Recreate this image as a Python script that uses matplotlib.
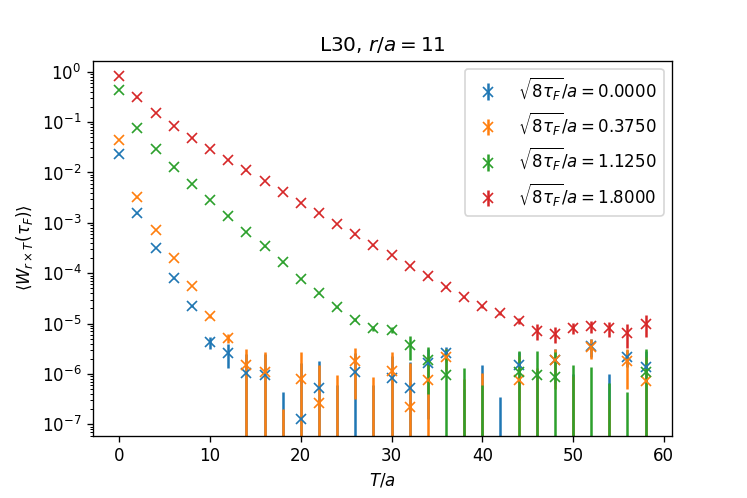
import numpy as np
import matplotlib
matplotlib.use('Agg')
from matplotlib import pyplot as plt

T = np.arange(0, 60, 2)

# <W> and errors, one list per flow time (negative means hidden on log axis)
w_000 = [2.3e-2, 1.55e-3, 3.15e-4, 7.9e-5, 2.2e-5, 4.3e-6, 2.6e-6, 1.04e-6, 9.6e-7, -1.0e-6,
         1.3e-7, 5.2e-7, -6e-7, 1.07e-6, -8e-7, 8.3e-7, 5.2e-7, 1.63e-6, 2.6e-6, -1.0e-6,
         -5e-7, -1.2e-6, 1.5e-6, -3e-7, 1.86e-6, -5e-7, 3.55e-6, -5e-7, 2.15e-6, 1.36e-6]
e_000 = [3e-4, 2e-5, 5e-6, 1.5e-6, 1e-6, 1.2e-6, 1.3e-6, 1.5e-6, 1.5e-6, 1.43e-6,
         1.5e-6, 1.3e-6, 1.2e-6, 1.5e-6, 1.4e-6, 1.4e-6, 1.2e-6, 1.5e-6, 0.9e-6, 1.5e-6,
         2.0e-6, 1.55e-6, 1.2e-6, 1.5e-6, 1.2e-6, 1.5e-6, 1.4e-6, 1.5e-6, 0.8e-6, 1.5e-6]

w_375 = [4.4e-2, 3.2e-3, 7.2e-4, 2.0e-4, 5.6e-5, 1.4e-5, 5.2e-6, 1.5e-6, 1.07e-6, -1.3e-6,
         7.9e-7, 2.7e-7, -5e-7, 1.77e-6, -6e-7, 1.17e-6, 2.2e-7, 7.6e-7, 2.15e-6, -8e-7,
         -8e-7, -1.5e-6, 7.6e-7, -2e-7, 1.85e-6, -6e-7, 3.5e-6, -1.2e-6, 1.8e-6, 7.1e-7]
e_375 = [5e-4, 4e-5, 8e-6, 2e-6, 1e-6, 1e-6, 1.1e-6, 1.6e-6, 1.6e-6, 1.5e-6,
         2.0e-6, 1.25e-6, 1.45e-6, 1.45e-6, 1.47e-6, 1.5e-6, 1.43e-6, 1.5e-6, 1.0e-6, 1.6e-6,
         1.84e-6, 1.45e-6, 1.5e-6, 1.5e-6, 1.35e-6, 1.5e-6, 1.5e-6, 1.5e-6, 1.3e-6, 1.5e-6]

w_1125 = [0.43, 7.6e-2, 2.9e-2, 1.26e-2, 5.9e-3, 2.85e-3, 1.39e-3, 6.7e-4, 3.4e-4, 1.65e-4,
          7.8e-5, 4.0e-5, 2.1e-5, 1.2e-5, 8.1e-6, 7.5e-6, 3.8e-6, 1.9e-6, 9.6e-7, -1.0e-6,
          -1.5e-6, -1.5e-6, 1.1e-6, 9.6e-7, 8.9e-7, -1.0e-6, -1.0e-6, -1.0e-6, -1.2e-6, 1.1e-6]
e_1125 = [4e-3, 8e-4, 3e-4, 1e-4, 5e-5, 3e-5, 1.5e-5, 8e-6, 4e-6, 2e-6,
          1.5e-6, 1e-6, 1e-6, 1e-6, 1e-6, 1e-6, 1.9e-6, 1.5e-6, 2.2e-6, 2.34e-6,
          2.1e-6, 1.5e-6, 1.8e-6, 1.85e-6, 1.9e-6, 2.5e-6, 2.4e-6, 1.65e-6, 1.63e-6, 2.1e-6]

w_18 = [0.82, 0.31, 0.15, 8.3e-2, 4.9e-2, 2.9e-2, 1.8e-2, 1.1e-2, 6.7e-3, 4.1e-3,
        2.5e-3, 1.6e-3, 9.5e-4, 5.9e-4, 3.6e-4, 2.3e-4, 1.4e-4, 8.9e-5, 5.4e-5, 3.4e-5,
        2.2e-5, 1.6e-5, 1.15e-5, 7.2e-6, 6.3e-6, 8.1e-6, 8.9e-6, 8.1e-6, 6.6e-6, 1.0e-5]
e_18 = [8e-3, 3e-3, 1.5e-3, 8e-4, 5e-4, 3e-4, 2e-4, 1.2e-4, 8e-5, 5e-5,
        3e-5, 2e-5, 1.5e-5, 1e-5, 7e-6, 5e-6, 4e-6, 3e-6, 2e-6, 1.5e-6,
        1.2e-6, 1.2e-6, 1.5e-6, 2.5e-6, 2.2e-6, 2e-6, 2.5e-6, 2.8e-6, 3.3e-6, 4.5e-6]

flow = ["0.0000", "0.3750", "1.1250", "1.8000"]
series = [(w_000, e_000), (w_375, e_375), (w_1125, e_1125), (w_18, e_18)]

dpi = 120
fig = plt.figure(figsize=(747 / dpi, 498 / dpi), dpi=dpi)
ax = fig.add_axes([0.1245, 0.1255, 0.775, 0.753])

for (w, e), f in zip(series, flow):
    ax.errorbar(T, w, yerr=e, fmt='x', label=r'$\sqrt{8\tau_F}/a = %s$' % f)

ax.set_yscale('log')
ax.set_ylim(6.0e-8, 1.67)
ax.set_xlim(-2.9, 60.9)
ax.set_xlabel(r'$T/a$')
ax.set_ylabel(r'$\langle W_{r\times T}(\tau_F)\rangle$')
ax.set_title(r'L30, $r/a = 11$')
ax.legend(loc='upper right')

fig.savefig('out.png', dpi=dpi)
